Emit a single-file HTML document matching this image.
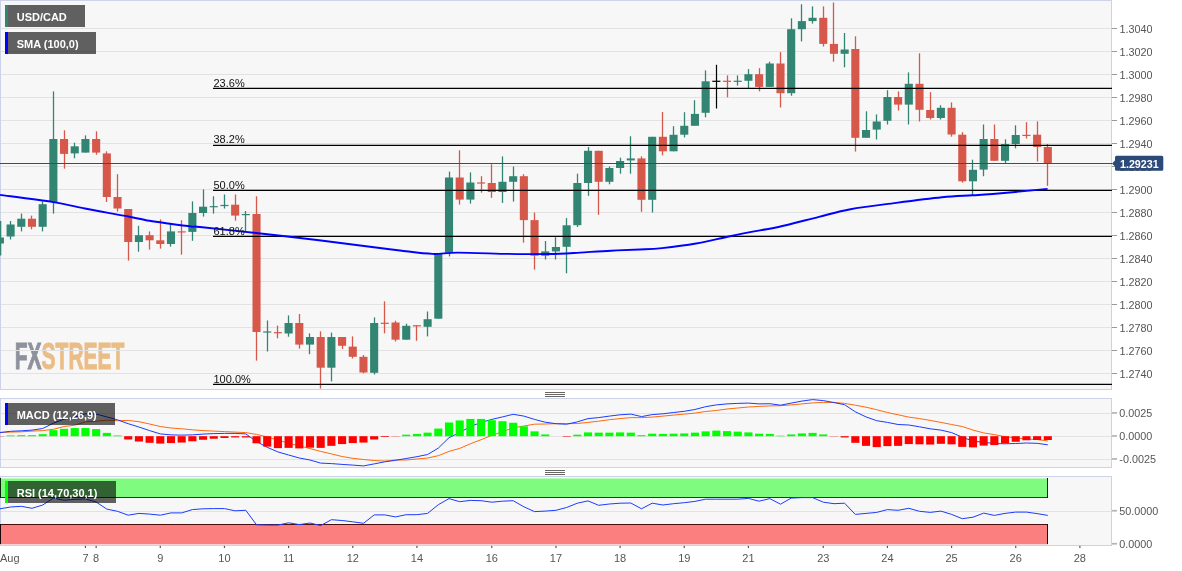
<!DOCTYPE html>
<html lang="en"><head><meta charset="utf-8"><title>USD/CAD chart</title>
<style>
html,body{margin:0;padding:0;background:#fff;}
body{width:1182px;height:571px;position:relative;overflow:hidden;font-family:"Liberation Sans",sans-serif;}
</style></head><body>
<svg width="1182" height="571" viewBox="0 0 1182 571" style="position:absolute;left:0;top:0;font-family:'Liberation Sans',sans-serif">
<defs>
<clipPath id="cm"><rect x="0" y="0" width="1112" height="390"/></clipPath>
<clipPath id="cd"><rect x="0" y="398" width="1112" height="70"/></clipPath>
<clipPath id="cr"><rect x="0" y="476" width="1112" height="70"/></clipPath>
</defs>
<rect x="0.5" y="0.5" width="1111" height="389" fill="#f7f7f7" stroke="#ccd3e6" stroke-width="1"/>
<rect x="0.5" y="398.5" width="1111" height="69" fill="#f7f7f7" stroke="#ccd3e6" stroke-width="1"/>
<rect x="0.5" y="476.5" width="1111" height="69" fill="#f7f7f7" stroke="#ccd3e6" stroke-width="1"/>
<g clip-path="url(#cm)">
<g font-weight="bold" font-size="36.2px" stroke-linejoin="miter">
<text transform="translate(14.8,369.1) scale(0.58,1)" x="0" y="0"><tspan fill="#8e929d" stroke="#8e929d" stroke-width="1.0">FX</tspan><tspan fill="#ebbd86" stroke="#ebbd86" stroke-width="1.0">STREET</tspan></text>
</g>
<g shape-rendering="crispEdges" fill="#e2e2e2">
<rect x="1" y="28" width="1110" height="1"/>
<rect x="1" y="51" width="1110" height="1"/>
<rect x="1" y="74" width="1110" height="1"/>
<rect x="1" y="97" width="1110" height="1"/>
<rect x="1" y="120" width="1110" height="1"/>
<rect x="1" y="143" width="1110" height="1"/>
<rect x="1" y="166" width="1110" height="1"/>
<rect x="1" y="189" width="1110" height="1"/>
<rect x="1" y="212" width="1110" height="1"/>
<rect x="1" y="235" width="1110" height="1"/>
<rect x="1" y="258" width="1110" height="1"/>
<rect x="1" y="281" width="1110" height="1"/>
<rect x="1" y="304" width="1110" height="1"/>
<rect x="1" y="327" width="1110" height="1"/>
<rect x="1" y="350" width="1110" height="1"/>
<rect x="1" y="373" width="1110" height="1"/>
</g>
<g>
<rect x="0.00" y="221.0" width="1.3" height="34.5" fill="#338573"/>
<rect x="-4.15" y="237.5" width="8.1" height="6.0" fill="#338573"/>
<rect x="9.85" y="221.0" width="1.3" height="18.5" fill="#338573"/>
<rect x="6.54" y="224.5" width="8.1" height="12.0" fill="#338573"/>
<rect x="20.85" y="213.6" width="1.3" height="17.8" fill="#338573"/>
<rect x="17.24" y="218.7" width="8.1" height="8.1" fill="#338573"/>
<rect x="30.85" y="215.6" width="1.3" height="13.7" fill="#d6584a"/>
<rect x="27.93" y="218.7" width="8.1" height="8.1" fill="#d6584a"/>
<rect x="41.85" y="201.4" width="1.3" height="30.0" fill="#338573"/>
<rect x="38.62" y="204.2" width="8.1" height="22.6" fill="#338573"/>
<rect x="52.85" y="91.4" width="1.3" height="122.2" fill="#338573"/>
<rect x="49.31" y="139.0" width="8.1" height="63.0" fill="#338573"/>
<rect x="63.85" y="130.3" width="1.3" height="38.3" fill="#d6584a"/>
<rect x="60.01" y="139.0" width="8.1" height="14.9" fill="#d6584a"/>
<rect x="73.85" y="142.7" width="1.3" height="15.5" fill="#338573"/>
<rect x="70.70" y="146.3" width="8.1" height="7.1" fill="#338573"/>
<rect x="84.85" y="135.4" width="1.3" height="17.2" fill="#338573"/>
<rect x="81.39" y="139.0" width="8.1" height="13.6" fill="#338573"/>
<rect x="95.85" y="131.3" width="1.3" height="23.4" fill="#d6584a"/>
<rect x="92.09" y="139.0" width="8.1" height="13.6" fill="#d6584a"/>
<rect x="105.85" y="151.3" width="1.3" height="50.7" fill="#d6584a"/>
<rect x="102.78" y="153.4" width="8.1" height="43.6" fill="#d6584a"/>
<rect x="116.85" y="174.2" width="1.3" height="37.3" fill="#d6584a"/>
<rect x="113.47" y="197.0" width="8.1" height="11.5" fill="#d6584a"/>
<rect x="127.85" y="209.0" width="1.3" height="51.6" fill="#d6584a"/>
<rect x="124.17" y="209.0" width="8.1" height="33.0" fill="#d6584a"/>
<rect x="137.85" y="225.8" width="1.3" height="25.9" fill="#338573"/>
<rect x="134.86" y="235.2" width="8.1" height="6.8" fill="#338573"/>
<rect x="148.85" y="231.4" width="1.3" height="18.2" fill="#d6584a"/>
<rect x="145.55" y="235.2" width="8.1" height="5.1" fill="#d6584a"/>
<rect x="159.85" y="219.4" width="1.3" height="29.2" fill="#d6584a"/>
<rect x="156.24" y="240.3" width="8.1" height="3.7" fill="#d6584a"/>
<rect x="169.85" y="224.2" width="1.3" height="22.4" fill="#338573"/>
<rect x="166.94" y="231.4" width="8.1" height="12.6" fill="#338573"/>
<rect x="180.85" y="220.2" width="1.3" height="34.5" fill="#d6584a"/>
<rect x="177.63" y="231.3" width="8.1" height="1.2" fill="#d6584a"/>
<rect x="191.85" y="201.4" width="1.3" height="39.4" fill="#338573"/>
<rect x="188.32" y="213.0" width="8.1" height="18.9" fill="#338573"/>
<rect x="202.85" y="189.4" width="1.3" height="27.2" fill="#338573"/>
<rect x="199.02" y="206.7" width="8.1" height="6.3" fill="#338573"/>
<rect x="212.85" y="196.3" width="1.3" height="17.3" fill="#338573"/>
<rect x="209.71" y="206.1" width="8.1" height="1.2" fill="#338573"/>
<rect x="223.85" y="194.5" width="1.3" height="14.0" fill="#338573"/>
<rect x="220.40" y="204.9" width="8.1" height="1.2" fill="#338573"/>
<rect x="234.85" y="194.5" width="1.3" height="26.2" fill="#d6584a"/>
<rect x="231.10" y="204.7" width="8.1" height="10.9" fill="#d6584a"/>
<rect x="244.85" y="211.0" width="1.3" height="20.4" fill="#338573"/>
<rect x="241.79" y="214.0" width="8.1" height="1.2" fill="#338573"/>
<rect x="255.85" y="196.3" width="1.3" height="164.3" fill="#d6584a"/>
<rect x="252.48" y="214.0" width="8.1" height="118.0" fill="#d6584a"/>
<rect x="266.85" y="320.5" width="1.3" height="31.0" fill="#338573"/>
<rect x="263.17" y="331.4" width="8.1" height="1.2" fill="#338573"/>
<rect x="276.85" y="325.6" width="1.3" height="12.7" fill="#d6584a"/>
<rect x="273.87" y="332.1" width="8.1" height="1.2" fill="#d6584a"/>
<rect x="287.85" y="315.4" width="1.3" height="21.3" fill="#338573"/>
<rect x="284.56" y="323.0" width="8.1" height="10.5" fill="#338573"/>
<rect x="298.85" y="314.0" width="1.3" height="34.6" fill="#d6584a"/>
<rect x="295.25" y="323.0" width="8.1" height="21.6" fill="#d6584a"/>
<rect x="308.85" y="333.4" width="1.3" height="20.8" fill="#338573"/>
<rect x="305.95" y="337.0" width="8.1" height="7.6" fill="#338573"/>
<rect x="319.85" y="331.4" width="1.3" height="57.1" fill="#d6584a"/>
<rect x="316.64" y="337.0" width="8.1" height="30.7" fill="#d6584a"/>
<rect x="330.85" y="332.6" width="1.3" height="48.8" fill="#338573"/>
<rect x="327.33" y="337.0" width="8.1" height="30.7" fill="#338573"/>
<rect x="341.85" y="337.0" width="1.3" height="12.0" fill="#d6584a"/>
<rect x="338.03" y="337.0" width="8.1" height="8.8" fill="#d6584a"/>
<rect x="351.85" y="336.4" width="1.3" height="22.1" fill="#d6584a"/>
<rect x="348.72" y="346.6" width="8.1" height="10.2" fill="#d6584a"/>
<rect x="362.85" y="355.0" width="1.3" height="18.3" fill="#d6584a"/>
<rect x="359.41" y="356.8" width="8.1" height="15.7" fill="#d6584a"/>
<rect x="373.85" y="317.4" width="1.3" height="57.1" fill="#338573"/>
<rect x="370.10" y="323.0" width="8.1" height="49.8" fill="#338573"/>
<rect x="383.85" y="301.4" width="1.3" height="32.0" fill="#d6584a"/>
<rect x="380.80" y="322.7" width="8.1" height="1.2" fill="#d6584a"/>
<rect x="394.85" y="320.7" width="1.3" height="20.8" fill="#d6584a"/>
<rect x="391.49" y="322.5" width="8.1" height="17.2" fill="#d6584a"/>
<rect x="405.85" y="323.7" width="1.3" height="16.0" fill="#338573"/>
<rect x="402.18" y="325.8" width="8.1" height="13.9" fill="#338573"/>
<rect x="415.85" y="325.3" width="1.3" height="15.5" fill="#d6584a"/>
<rect x="412.88" y="325.2" width="8.1" height="1.2" fill="#d6584a"/>
<rect x="426.85" y="311.5" width="1.3" height="24.9" fill="#338573"/>
<rect x="423.57" y="319.2" width="8.1" height="7.6" fill="#338573"/>
<rect x="437.85" y="253.0" width="1.3" height="65.7" fill="#338573"/>
<rect x="434.26" y="253.9" width="8.1" height="64.8" fill="#338573"/>
<rect x="448.85" y="171.6" width="1.3" height="84.8" fill="#338573"/>
<rect x="444.96" y="177.5" width="8.1" height="75.1" fill="#338573"/>
<rect x="458.85" y="150.3" width="1.3" height="54.3" fill="#d6584a"/>
<rect x="455.65" y="177.5" width="8.1" height="22.1" fill="#d6584a"/>
<rect x="469.85" y="172.4" width="1.3" height="31.2" fill="#338573"/>
<rect x="466.34" y="182.5" width="8.1" height="17.1" fill="#338573"/>
<rect x="480.85" y="176.2" width="1.3" height="16.5" fill="#d6584a"/>
<rect x="477.03" y="182.4" width="8.1" height="1.2" fill="#d6584a"/>
<rect x="490.85" y="164.3" width="1.3" height="33.5" fill="#d6584a"/>
<rect x="487.73" y="183.0" width="8.1" height="9.0" fill="#d6584a"/>
<rect x="501.85" y="156.4" width="1.3" height="46.5" fill="#338573"/>
<rect x="498.42" y="181.8" width="8.1" height="10.2" fill="#338573"/>
<rect x="512.85" y="166.5" width="1.3" height="35.1" fill="#338573"/>
<rect x="509.11" y="176.2" width="8.1" height="5.6" fill="#338573"/>
<rect x="522.85" y="174.2" width="1.3" height="68.5" fill="#d6584a"/>
<rect x="519.81" y="176.2" width="8.1" height="43.9" fill="#d6584a"/>
<rect x="533.85" y="212.5" width="1.3" height="57.1" fill="#d6584a"/>
<rect x="530.50" y="220.1" width="8.1" height="35.6" fill="#d6584a"/>
<rect x="544.85" y="241.0" width="1.3" height="18.5" fill="#338573"/>
<rect x="541.19" y="251.4" width="8.1" height="4.3" fill="#338573"/>
<rect x="554.85" y="237.2" width="1.3" height="22.3" fill="#338573"/>
<rect x="551.89" y="247.0" width="8.1" height="4.4" fill="#338573"/>
<rect x="565.85" y="218.1" width="1.3" height="55.2" fill="#338573"/>
<rect x="562.58" y="225.3" width="8.1" height="21.5" fill="#338573"/>
<rect x="576.85" y="173.7" width="1.3" height="53.3" fill="#338573"/>
<rect x="573.27" y="183.0" width="8.1" height="42.2" fill="#338573"/>
<rect x="587.85" y="147.0" width="1.3" height="48.8" fill="#338573"/>
<rect x="583.97" y="150.8" width="8.1" height="32.2" fill="#338573"/>
<rect x="597.85" y="150.8" width="1.3" height="64.0" fill="#d6584a"/>
<rect x="594.66" y="150.8" width="8.1" height="31.0" fill="#d6584a"/>
<rect x="608.85" y="166.5" width="1.3" height="17.8" fill="#338573"/>
<rect x="605.35" y="168.0" width="8.1" height="13.8" fill="#338573"/>
<rect x="619.85" y="157.7" width="1.3" height="16.0" fill="#338573"/>
<rect x="616.04" y="161.0" width="8.1" height="7.0" fill="#338573"/>
<rect x="629.85" y="136.3" width="1.3" height="37.4" fill="#338573"/>
<rect x="626.74" y="158.4" width="8.1" height="2.0" fill="#338573"/>
<rect x="640.85" y="156.4" width="1.3" height="55.4" fill="#d6584a"/>
<rect x="637.43" y="158.4" width="8.1" height="41.4" fill="#d6584a"/>
<rect x="651.85" y="136.8" width="1.3" height="75.7" fill="#338573"/>
<rect x="648.12" y="136.8" width="8.1" height="63.0" fill="#338573"/>
<rect x="661.85" y="112.0" width="1.3" height="43.4" fill="#d6584a"/>
<rect x="658.82" y="136.8" width="8.1" height="14.5" fill="#d6584a"/>
<rect x="672.85" y="126.2" width="1.3" height="25.1" fill="#338573"/>
<rect x="669.51" y="134.8" width="8.1" height="16.5" fill="#338573"/>
<rect x="683.85" y="112.2" width="1.3" height="25.2" fill="#338573"/>
<rect x="680.20" y="125.8" width="8.1" height="8.9" fill="#338573"/>
<rect x="693.85" y="100.3" width="1.3" height="25.5" fill="#338573"/>
<rect x="690.89" y="113.9" width="8.1" height="11.9" fill="#338573"/>
<rect x="704.85" y="70.4" width="1.3" height="46.9" fill="#338573"/>
<rect x="701.59" y="81.3" width="8.1" height="31.5" fill="#338573"/>
<rect x="715.90" y="64.8" width="1.2" height="43.7" fill="#000000"/>
<rect x="712.28" y="80.7" width="8.1" height="1.2" fill="#000000"/>
<rect x="726.85" y="75.4" width="1.3" height="21.9" fill="#d6584a"/>
<rect x="722.97" y="80.7" width="8.1" height="1.2" fill="#d6584a"/>
<rect x="736.85" y="75.4" width="1.3" height="10.2" fill="#338573"/>
<rect x="733.67" y="80.7" width="8.1" height="1.2" fill="#338573"/>
<rect x="747.85" y="69.1" width="1.3" height="19.0" fill="#338573"/>
<rect x="744.36" y="74.2" width="8.1" height="6.6" fill="#338573"/>
<rect x="758.85" y="68.1" width="1.3" height="23.3" fill="#d6584a"/>
<rect x="755.05" y="74.2" width="8.1" height="12.7" fill="#d6584a"/>
<rect x="768.85" y="61.7" width="1.3" height="25.2" fill="#338573"/>
<rect x="765.75" y="63.5" width="8.1" height="23.4" fill="#338573"/>
<rect x="779.85" y="52.1" width="1.3" height="55.4" fill="#d6584a"/>
<rect x="776.44" y="63.5" width="8.1" height="29.7" fill="#d6584a"/>
<rect x="790.85" y="18.3" width="1.3" height="77.5" fill="#338573"/>
<rect x="787.13" y="29.2" width="8.1" height="64.0" fill="#338573"/>
<rect x="800.85" y="4.3" width="1.3" height="37.1" fill="#338573"/>
<rect x="797.83" y="21.1" width="8.1" height="8.1" fill="#338573"/>
<rect x="811.85" y="6.4" width="1.3" height="17.2" fill="#338573"/>
<rect x="808.52" y="17.8" width="8.1" height="3.3" fill="#338573"/>
<rect x="822.85" y="6.4" width="1.3" height="40.1" fill="#d6584a"/>
<rect x="819.21" y="17.8" width="8.1" height="26.1" fill="#d6584a"/>
<rect x="832.85" y="2.5" width="1.3" height="59.2" fill="#d6584a"/>
<rect x="829.90" y="43.9" width="8.1" height="9.9" fill="#d6584a"/>
<rect x="843.85" y="33.0" width="1.3" height="34.3" fill="#338573"/>
<rect x="840.60" y="49.5" width="8.1" height="4.3" fill="#338573"/>
<rect x="854.85" y="36.3" width="1.3" height="115.3" fill="#d6584a"/>
<rect x="851.29" y="49.0" width="8.1" height="88.8" fill="#d6584a"/>
<rect x="865.85" y="111.3" width="1.3" height="26.5" fill="#338573"/>
<rect x="861.98" y="130.0" width="8.1" height="7.8" fill="#338573"/>
<rect x="875.85" y="114.4" width="1.3" height="25.1" fill="#338573"/>
<rect x="872.68" y="121.5" width="8.1" height="8.1" fill="#338573"/>
<rect x="886.85" y="90.2" width="1.3" height="34.3" fill="#338573"/>
<rect x="883.37" y="97.0" width="8.1" height="23.8" fill="#338573"/>
<rect x="897.85" y="91.4" width="1.3" height="19.1" fill="#d6584a"/>
<rect x="894.06" y="97.0" width="8.1" height="7.6" fill="#d6584a"/>
<rect x="907.85" y="72.4" width="1.3" height="52.1" fill="#338573"/>
<rect x="904.75" y="83.8" width="8.1" height="20.8" fill="#338573"/>
<rect x="918.85" y="53.3" width="1.3" height="68.2" fill="#d6584a"/>
<rect x="915.45" y="83.8" width="8.1" height="26.0" fill="#d6584a"/>
<rect x="929.85" y="92.2" width="1.3" height="27.3" fill="#d6584a"/>
<rect x="926.14" y="110.0" width="8.1" height="8.0" fill="#d6584a"/>
<rect x="939.85" y="105.2" width="1.3" height="14.3" fill="#338573"/>
<rect x="936.83" y="107.8" width="8.1" height="10.2" fill="#338573"/>
<rect x="950.85" y="102.4" width="1.3" height="34.3" fill="#d6584a"/>
<rect x="947.53" y="107.8" width="8.1" height="26.7" fill="#d6584a"/>
<rect x="961.85" y="132.2" width="1.3" height="50.4" fill="#d6584a"/>
<rect x="958.22" y="134.7" width="8.1" height="46.6" fill="#d6584a"/>
<rect x="971.85" y="159.7" width="1.3" height="35.6" fill="#338573"/>
<rect x="968.91" y="169.8" width="8.1" height="11.5" fill="#338573"/>
<rect x="982.85" y="124.5" width="1.3" height="51.7" fill="#338573"/>
<rect x="979.61" y="139.0" width="8.1" height="30.6" fill="#338573"/>
<rect x="993.85" y="124.5" width="1.3" height="36.3" fill="#d6584a"/>
<rect x="990.30" y="139.0" width="8.1" height="21.8" fill="#d6584a"/>
<rect x="1004.85" y="139.3" width="1.3" height="23.7" fill="#338573"/>
<rect x="1000.99" y="144.1" width="8.1" height="16.7" fill="#338573"/>
<rect x="1014.85" y="125.3" width="1.3" height="23.0" fill="#338573"/>
<rect x="1011.68" y="135.0" width="8.1" height="9.0" fill="#338573"/>
<rect x="1025.85" y="122.2" width="1.3" height="16.3" fill="#d6584a"/>
<rect x="1022.38" y="134.8" width="8.1" height="1.2" fill="#d6584a"/>
<rect x="1036.85" y="121.4" width="1.3" height="40.1" fill="#d6584a"/>
<rect x="1033.07" y="134.7" width="8.1" height="12.3" fill="#d6584a"/>
<rect x="1046.85" y="144.0" width="1.3" height="41.9" fill="#d6584a"/>
<rect x="1043.76" y="147.0" width="8.1" height="16.0" fill="#d6584a"/>
</g>
<rect x="0" y="163" width="1112" height="1" fill="#2f4d7e" shape-rendering="crispEdges"/>
<line x1="213" y1="88.45" x2="1112" y2="88.45" stroke="#000" stroke-width="1.2"/>
<line x1="213" y1="145.45" x2="1112" y2="145.45" stroke="#000" stroke-width="1.2"/>
<line x1="213" y1="190.45" x2="1112" y2="190.45" stroke="#000" stroke-width="1.2"/>
<line x1="213" y1="236.4" x2="1112" y2="236.4" stroke="#000" stroke-width="1.2"/>
<line x1="213" y1="384.3" x2="1112" y2="384.3" stroke="#000" stroke-width="1.2"/>
<path d="M0.0,194.9C8.9,196.1 39.1,199.8 53.3,202.1C67.5,204.4 76.0,206.8 85.0,208.5C94.0,210.2 99.8,211.3 107.0,212.6C114.2,213.9 121.2,215.1 128.3,216.5C135.4,217.9 142.6,219.6 149.5,220.8C156.4,222.0 162.9,222.8 170.0,223.8C177.1,224.8 187.0,226.1 192.0,226.6C197.0,227.1 189.3,225.9 200.0,227.0C210.7,228.1 236.2,230.8 256.0,233.0C275.8,235.2 300.0,238.0 319.0,240.3C338.0,242.6 356.5,245.1 370.0,246.8C383.5,248.5 389.6,249.3 400.0,250.5C410.4,251.7 422.8,253.6 432.4,253.9C442.0,254.2 445.1,252.6 457.8,252.6C470.5,252.6 495.9,253.7 508.6,253.9C521.3,254.2 525.4,254.1 534.0,254.1C542.6,254.1 552.3,253.9 560.0,253.7C567.7,253.4 571.5,253.1 580.0,252.6C588.5,252.1 601.0,251.2 611.0,250.7C621.0,250.2 631.5,249.9 640.0,249.5C648.5,249.1 652.7,249.1 662.0,248.1C671.3,247.1 684.7,245.5 696.0,243.5C707.3,241.5 719.3,238.4 730.0,236.2C740.7,234.0 751.9,231.9 760.0,230.4C768.1,228.9 768.6,229.3 778.4,227.0C788.2,224.7 807.0,219.8 819.0,216.8C831.0,213.8 837.6,211.5 850.5,209.2C863.4,206.9 881.0,204.9 896.2,202.9C911.5,200.9 929.3,198.6 942.0,197.3C954.7,196.0 963.9,195.9 972.4,195.3C980.9,194.8 980.2,195.1 992.7,194.0C1005.2,192.9 1038.4,189.8 1047.6,188.9" fill="none" stroke="#0000ff" stroke-width="1.9" stroke-linejoin="round"/>
<text x="213.5" y="87.05" font-size="11px" fill="#111">23.6%</text>
<text x="213.5" y="143.05" font-size="11px" fill="#111">38.2%</text>
<text x="213.5" y="189.05" font-size="11px" fill="#111">50.0%</text>
<text x="213.5" y="235.10" font-size="11px" fill="#111">61.8%</text>
<text x="213.5" y="382.70" font-size="11px" fill="#111">100.0%</text>
<rect x="5" y="5" width="80" height="22" fill="#000" fill-opacity="0.61" shape-rendering="crispEdges"/>
<rect x="5" y="5" width="3" height="22" fill="#338573" shape-rendering="crispEdges"/>
<text x="16.7" y="21.0" font-size="11px" font-weight="bold" fill="#fff">USD/CAD</text>
<rect x="5" y="32" width="91" height="22" fill="#000" fill-opacity="0.61" shape-rendering="crispEdges"/>
<rect x="5" y="32" width="3" height="22" fill="#0000ff" shape-rendering="crispEdges"/>
<text x="16.7" y="48.0" font-size="11px" font-weight="bold" fill="#fff">SMA (100,0)</text>
</g>
<g clip-path="url(#cd)">
<g shape-rendering="crispEdges" fill="#e2e2e2">
<rect x="1" y="413" width="1110" height="1"/>
<rect x="1" y="436" width="1110" height="1"/>
<rect x="1" y="459" width="1110" height="1"/>
</g>
<polyline points="-0.1,432.4 10.6,432.1 21.3,431.8 32.0,431.1 42.7,430.6 53.4,429.3 64.1,426.5 74.8,425.2 85.4,421.9 96.1,421.2 106.8,420.2 117.5,420.7 128.2,420.4 138.9,421.7 149.6,424.0 160.3,426.5 171.0,428.0 181.7,428.8 192.4,429.8 203.1,430.6 213.8,431.1 224.5,431.6 235.1,432.1 245.8,432.6 256.5,434.4 267.2,436.9 277.9,440.0 288.6,443.3 299.3,445.8 310.0,448.6 320.7,451.4 331.4,453.9 342.1,456.5 352.8,458.3 363.5,459.5 374.2,460.5 384.8,461.1 395.5,460.0 406.2,460.0 416.9,459.0 427.6,458.0 438.3,455.7 449.0,451.4 459.7,448.4 470.4,443.8 481.1,439.7 491.8,435.4 502.5,431.8 513.2,427.8 523.9,426.0 534.5,424.2 545.2,424.0 555.9,423.7 566.6,423.7 577.3,423.5 588.0,422.4 598.7,421.2 609.4,419.7 620.1,418.6 630.8,417.6 641.5,417.6 652.2,417.1 662.9,416.1 673.6,415.1 684.3,414.1 694.9,413.1 705.6,411.5 716.3,410.5 727.0,409.0 737.7,408.0 748.4,407.0 759.1,406.4 769.8,405.9 780.5,405.7 791.2,404.9 801.9,403.9 812.6,402.9 823.3,402.4 834.0,402.4 844.6,403.4 855.3,405.2 866.0,407.2 876.7,409.7 887.4,412.5 898.1,414.8 908.8,417.1 919.5,418.6 930.2,420.4 940.9,422.4 951.6,424.5 962.3,426.5 973.0,430.1 983.7,432.9 994.3,434.6 1005.0,436.7 1015.7,437.9 1026.4,439.0 1037.1,439.5 1047.8,441.0" fill="none" stroke="#ff6a0d" stroke-width="1.0" stroke-linejoin="round"/>
<polyline points="-0.1,432.6 10.6,431.3 21.3,430.8 32.0,430.1 42.7,428.5 53.4,423.2 64.1,419.1 74.8,417.1 85.4,413.8 96.1,414.1 106.8,416.9 117.5,419.9 128.2,423.7 138.9,427.0 149.6,430.6 160.3,433.9 171.0,434.9 181.7,435.1 192.4,434.9 203.1,434.1 213.8,433.6 224.5,433.4 235.1,433.4 245.8,433.9 256.5,441.5 267.2,447.3 277.9,451.9 288.6,455.0 299.3,458.0 310.0,460.0 320.7,463.1 331.4,463.6 342.1,464.4 352.8,465.1 363.5,465.9 374.2,463.9 384.8,461.8 395.5,460.3 406.2,458.5 416.9,456.7 427.6,454.5 438.3,448.1 449.0,437.7 459.7,432.6 470.4,426.5 481.1,422.4 491.8,419.4 502.5,416.9 513.2,414.3 523.9,416.1 534.5,419.4 545.2,422.2 555.9,423.7 566.6,424.2 577.3,421.9 588.0,418.6 598.7,417.6 609.4,416.1 620.1,414.8 630.8,414.1 641.5,416.6 652.2,414.6 662.9,413.8 673.6,412.5 684.3,411.3 694.9,409.5 705.6,406.7 716.3,404.9 727.0,403.9 737.7,403.4 748.4,403.1 759.1,403.9 769.8,403.7 780.5,405.2 791.2,403.1 801.9,401.1 812.6,399.6 823.3,400.6 834.0,402.6 844.6,404.7 855.3,411.8 866.0,416.9 876.7,420.7 887.4,422.4 898.1,424.5 908.8,425.0 919.5,426.8 930.2,428.8 940.9,430.1 951.6,432.6 962.3,437.2 973.0,441.2 983.7,442.3 994.3,443.5 1005.0,443.8 1015.7,443.5 1026.4,443.0 1037.1,443.3 1047.8,444.8" fill="none" stroke="#1a3cff" stroke-width="1.0" stroke-linejoin="round"/>
<g>
<rect x="-4.15" y="436.20" width="8.1" height="0.25" fill="#ff0000"/>
<rect x="6.54" y="435.44" width="8.1" height="0.76" fill="#00ff00"/>
<rect x="17.24" y="435.18" width="8.1" height="1.02" fill="#00ff00"/>
<rect x="27.93" y="435.18" width="8.1" height="1.02" fill="#00ff00"/>
<rect x="38.62" y="434.17" width="8.1" height="2.03" fill="#00ff00"/>
<rect x="49.31" y="430.10" width="8.1" height="6.10" fill="#00ff00"/>
<rect x="60.01" y="428.83" width="8.1" height="7.37" fill="#00ff00"/>
<rect x="70.70" y="428.07" width="8.1" height="8.13" fill="#00ff00"/>
<rect x="81.39" y="428.07" width="8.1" height="8.13" fill="#00ff00"/>
<rect x="92.09" y="429.09" width="8.1" height="7.11" fill="#00ff00"/>
<rect x="102.78" y="432.90" width="8.1" height="3.30" fill="#00ff00"/>
<rect x="113.47" y="435.44" width="8.1" height="0.76" fill="#00ff00"/>
<rect x="124.17" y="436.20" width="8.1" height="3.30" fill="#ff0000"/>
<rect x="134.86" y="436.20" width="8.1" height="5.33" fill="#ff0000"/>
<rect x="145.55" y="436.20" width="8.1" height="6.60" fill="#ff0000"/>
<rect x="156.24" y="436.20" width="8.1" height="7.37" fill="#ff0000"/>
<rect x="166.94" y="436.20" width="8.1" height="6.86" fill="#ff0000"/>
<rect x="177.63" y="436.20" width="8.1" height="6.35" fill="#ff0000"/>
<rect x="188.32" y="436.20" width="8.1" height="5.08" fill="#ff0000"/>
<rect x="199.02" y="436.20" width="8.1" height="3.56" fill="#ff0000"/>
<rect x="209.71" y="436.20" width="8.1" height="2.54" fill="#ff0000"/>
<rect x="220.40" y="436.20" width="8.1" height="1.78" fill="#ff0000"/>
<rect x="231.10" y="436.20" width="8.1" height="1.27" fill="#ff0000"/>
<rect x="241.79" y="436.20" width="8.1" height="1.27" fill="#ff0000"/>
<rect x="252.48" y="436.20" width="8.1" height="7.11" fill="#ff0000"/>
<rect x="263.17" y="436.20" width="8.1" height="10.41" fill="#ff0000"/>
<rect x="273.87" y="436.20" width="8.1" height="11.94" fill="#ff0000"/>
<rect x="284.56" y="436.20" width="8.1" height="11.68" fill="#ff0000"/>
<rect x="295.25" y="436.20" width="8.1" height="12.19" fill="#ff0000"/>
<rect x="305.95" y="436.20" width="8.1" height="11.43" fill="#ff0000"/>
<rect x="316.64" y="436.20" width="8.1" height="11.68" fill="#ff0000"/>
<rect x="327.33" y="436.20" width="8.1" height="9.65" fill="#ff0000"/>
<rect x="338.03" y="436.20" width="8.1" height="7.87" fill="#ff0000"/>
<rect x="348.72" y="436.20" width="8.1" height="6.86" fill="#ff0000"/>
<rect x="359.41" y="436.20" width="8.1" height="6.35" fill="#ff0000"/>
<rect x="370.10" y="436.20" width="8.1" height="3.30" fill="#ff0000"/>
<rect x="380.80" y="436.20" width="8.1" height="0.76" fill="#ff0000"/>
<rect x="391.49" y="436.20" width="8.1" height="0.25" fill="#ff0000"/>
<rect x="402.18" y="434.68" width="8.1" height="1.52" fill="#00ff00"/>
<rect x="412.88" y="433.91" width="8.1" height="2.29" fill="#00ff00"/>
<rect x="423.57" y="432.64" width="8.1" height="3.56" fill="#00ff00"/>
<rect x="434.26" y="428.58" width="8.1" height="7.62" fill="#00ff00"/>
<rect x="444.96" y="422.48" width="8.1" height="13.72" fill="#00ff00"/>
<rect x="455.65" y="420.45" width="8.1" height="15.75" fill="#00ff00"/>
<rect x="466.34" y="418.93" width="8.1" height="17.27" fill="#00ff00"/>
<rect x="477.03" y="418.93" width="8.1" height="17.27" fill="#00ff00"/>
<rect x="487.73" y="420.20" width="8.1" height="16.00" fill="#00ff00"/>
<rect x="498.42" y="421.21" width="8.1" height="14.99" fill="#00ff00"/>
<rect x="509.11" y="422.74" width="8.1" height="13.46" fill="#00ff00"/>
<rect x="519.81" y="426.29" width="8.1" height="9.91" fill="#00ff00"/>
<rect x="530.50" y="431.37" width="8.1" height="4.83" fill="#00ff00"/>
<rect x="541.19" y="434.42" width="8.1" height="1.78" fill="#00ff00"/>
<rect x="562.58" y="436.20" width="8.1" height="0.51" fill="#ff0000"/>
<rect x="573.27" y="434.68" width="8.1" height="1.52" fill="#00ff00"/>
<rect x="583.97" y="432.39" width="8.1" height="3.81" fill="#00ff00"/>
<rect x="594.66" y="432.64" width="8.1" height="3.56" fill="#00ff00"/>
<rect x="605.35" y="432.64" width="8.1" height="3.56" fill="#00ff00"/>
<rect x="616.04" y="432.39" width="8.1" height="3.81" fill="#00ff00"/>
<rect x="626.74" y="432.64" width="8.1" height="3.56" fill="#00ff00"/>
<rect x="637.43" y="435.18" width="8.1" height="1.02" fill="#00ff00"/>
<rect x="648.12" y="433.66" width="8.1" height="2.54" fill="#00ff00"/>
<rect x="658.82" y="433.91" width="8.1" height="2.29" fill="#00ff00"/>
<rect x="669.51" y="433.66" width="8.1" height="2.54" fill="#00ff00"/>
<rect x="680.20" y="433.41" width="8.1" height="2.79" fill="#00ff00"/>
<rect x="690.89" y="432.64" width="8.1" height="3.56" fill="#00ff00"/>
<rect x="701.59" y="431.37" width="8.1" height="4.83" fill="#00ff00"/>
<rect x="712.28" y="430.61" width="8.1" height="5.59" fill="#00ff00"/>
<rect x="722.97" y="431.12" width="8.1" height="5.08" fill="#00ff00"/>
<rect x="733.67" y="431.63" width="8.1" height="4.57" fill="#00ff00"/>
<rect x="744.36" y="432.39" width="8.1" height="3.81" fill="#00ff00"/>
<rect x="755.05" y="433.66" width="8.1" height="2.54" fill="#00ff00"/>
<rect x="765.75" y="433.91" width="8.1" height="2.29" fill="#00ff00"/>
<rect x="776.44" y="435.69" width="8.1" height="0.51" fill="#00ff00"/>
<rect x="787.13" y="434.42" width="8.1" height="1.78" fill="#00ff00"/>
<rect x="797.83" y="433.41" width="8.1" height="2.79" fill="#00ff00"/>
<rect x="808.52" y="432.90" width="8.1" height="3.30" fill="#00ff00"/>
<rect x="819.21" y="434.42" width="8.1" height="1.78" fill="#00ff00"/>
<rect x="829.90" y="436.20" width="8.1" height="0.25" fill="#ff0000"/>
<rect x="840.60" y="436.20" width="8.1" height="1.27" fill="#ff0000"/>
<rect x="851.29" y="436.20" width="8.1" height="6.60" fill="#ff0000"/>
<rect x="861.98" y="436.20" width="8.1" height="9.65" fill="#ff0000"/>
<rect x="872.68" y="436.20" width="8.1" height="10.92" fill="#ff0000"/>
<rect x="883.37" y="436.20" width="8.1" height="9.91" fill="#ff0000"/>
<rect x="894.06" y="436.20" width="8.1" height="9.65" fill="#ff0000"/>
<rect x="904.75" y="436.20" width="8.1" height="7.87" fill="#ff0000"/>
<rect x="915.45" y="436.20" width="8.1" height="8.13" fill="#ff0000"/>
<rect x="926.14" y="436.20" width="8.1" height="8.38" fill="#ff0000"/>
<rect x="936.83" y="436.20" width="8.1" height="7.62" fill="#ff0000"/>
<rect x="947.53" y="436.20" width="8.1" height="8.13" fill="#ff0000"/>
<rect x="958.22" y="436.20" width="8.1" height="10.67" fill="#ff0000"/>
<rect x="968.91" y="436.20" width="8.1" height="11.18" fill="#ff0000"/>
<rect x="979.61" y="436.20" width="8.1" height="9.40" fill="#ff0000"/>
<rect x="990.30" y="436.20" width="8.1" height="8.89" fill="#ff0000"/>
<rect x="1000.99" y="436.20" width="8.1" height="7.11" fill="#ff0000"/>
<rect x="1011.68" y="436.20" width="8.1" height="5.59" fill="#ff0000"/>
<rect x="1022.38" y="436.20" width="8.1" height="4.06" fill="#ff0000"/>
<rect x="1033.07" y="436.20" width="8.1" height="3.81" fill="#ff0000"/>
<rect x="1043.76" y="436.20" width="8.1" height="3.81" fill="#ff0000"/>
</g>
<rect x="5" y="403" width="110" height="22" fill="#000" fill-opacity="0.61" shape-rendering="crispEdges"/>
<rect x="5" y="403" width="3" height="22" fill="#0000ff" shape-rendering="crispEdges"/>
<text x="16.7" y="419.0" font-size="11px" font-weight="bold" fill="#fff">MACD (12,26,9)</text>
</g>
<g clip-path="url(#cr)">
<g shape-rendering="crispEdges" fill="#e2e2e2">
<rect x="1" y="511" width="1110" height="1"/>
</g>
<g shape-rendering="crispEdges">
<rect x="0" y="478.5" width="1048" height="19.5" fill="#7ffb7f" shape-rendering="auto"/>
<rect x="0" y="497" width="1048" height="1" fill="#114a11"/>
<rect x="1047" y="478" width="1" height="20" fill="#0a260a"/>
<rect x="0" y="478" width="1" height="20" fill="#0a260a"/>
<rect x="0" y="524.3" width="1048" height="20" fill="#fb7f7f" shape-rendering="auto"/>
<rect x="0" y="524" width="1048" height="1" fill="#4a0c0c"/>
<rect x="1047" y="524" width="1" height="20" fill="#1a0808"/>
<rect x="0" y="524" width="1" height="20" fill="#1a0808"/>
</g>
<polyline points="-0.1,508.8 10.6,507.0 21.3,506.3 32.0,508.3 42.7,505.0 53.4,498.1 64.1,500.2 74.8,499.4 85.4,498.9 96.1,502.0 106.8,509.1 117.5,511.3 128.2,515.2 138.9,513.4 149.6,514.1 160.3,515.2 171.0,512.9 181.7,512.9 192.4,509.6 203.1,508.8 213.8,508.6 224.5,508.6 235.1,510.8 245.8,510.3 256.5,524.8 267.2,525.1 277.9,525.1 288.6,522.8 299.3,524.6 310.0,523.0 320.7,525.6 331.4,519.7 342.1,520.5 352.8,521.8 363.5,523.3 374.2,514.9 384.8,514.9 395.5,516.9 406.2,514.7 416.9,514.7 427.6,513.4 438.3,504.7 449.0,498.6 459.7,501.7 470.4,500.4 481.1,500.7 491.8,502.2 502.5,501.2 513.2,500.7 523.9,506.8 534.5,511.6 545.2,511.1 555.9,510.3 566.6,507.5 577.3,503.2 588.0,500.9 598.7,505.3 609.4,504.0 620.1,503.2 630.8,503.0 641.5,508.8 652.2,503.2 662.9,505.0 673.6,503.7 684.3,502.7 694.9,501.4 705.6,499.2 716.3,499.2 727.0,499.2 737.7,499.2 748.4,498.4 759.1,501.2 769.8,498.6 780.5,504.2 791.2,498.1 801.9,497.6 812.6,497.6 823.3,502.2 834.0,503.7 844.6,503.2 855.3,514.4 866.0,513.4 876.7,512.4 887.4,509.6 898.1,510.3 908.8,508.3 919.5,511.3 930.2,512.4 940.9,511.1 951.6,514.4 962.3,518.7 973.0,517.2 983.7,513.1 994.3,515.4 1005.0,513.4 1015.7,512.1 1026.4,512.1 1037.1,513.6 1047.8,515.4" fill="none" stroke="#1a3cff" stroke-width="1.0" stroke-linejoin="round"/>
<rect x="5" y="481" width="111" height="22" fill="#000" fill-opacity="0.61" shape-rendering="crispEdges"/>
<rect x="5" y="481" width="3" height="22" fill="#00ff00" shape-rendering="crispEdges"/>
<text x="16.7" y="497.0" font-size="11px" font-weight="bold" fill="#fff">RSI (14,70,30,1)</text>
</g>
<g shape-rendering="crispEdges" fill="#6b6666">
<rect x="545" y="392" width="20" height="1"/>
<rect x="545" y="394" width="20" height="1"/>
<rect x="545" y="396" width="20" height="1"/>
<rect x="545" y="470" width="20" height="1"/>
<rect x="545" y="472" width="20" height="1"/>
<rect x="545" y="474" width="20" height="1"/>
</g>
<g font-size="10.8px" fill="#555555">
<rect x="1112" y="28" width="5" height="1" fill="#9a9a9a" shape-rendering="crispEdges"/>
<text x="1119.5" y="32.5">1.3040</text>
<rect x="1112" y="51" width="5" height="1" fill="#9a9a9a" shape-rendering="crispEdges"/>
<text x="1119.5" y="55.5">1.3020</text>
<rect x="1112" y="74" width="5" height="1" fill="#9a9a9a" shape-rendering="crispEdges"/>
<text x="1119.5" y="78.5">1.3000</text>
<rect x="1112" y="97" width="5" height="1" fill="#9a9a9a" shape-rendering="crispEdges"/>
<text x="1119.5" y="101.5">1.2980</text>
<rect x="1112" y="120" width="5" height="1" fill="#9a9a9a" shape-rendering="crispEdges"/>
<text x="1119.5" y="124.5">1.2960</text>
<rect x="1112" y="143" width="5" height="1" fill="#9a9a9a" shape-rendering="crispEdges"/>
<text x="1119.5" y="147.5">1.2940</text>
<rect x="1112" y="166" width="5" height="1" fill="#9a9a9a" shape-rendering="crispEdges"/>
<text x="1119.5" y="170.5">1.2920</text>
<rect x="1112" y="189" width="5" height="1" fill="#9a9a9a" shape-rendering="crispEdges"/>
<text x="1119.5" y="193.5">1.2900</text>
<rect x="1112" y="212" width="5" height="1" fill="#9a9a9a" shape-rendering="crispEdges"/>
<text x="1119.5" y="216.5">1.2880</text>
<rect x="1112" y="235" width="5" height="1" fill="#9a9a9a" shape-rendering="crispEdges"/>
<text x="1119.5" y="239.5">1.2860</text>
<rect x="1112" y="258" width="5" height="1" fill="#9a9a9a" shape-rendering="crispEdges"/>
<text x="1119.5" y="262.5">1.2840</text>
<rect x="1112" y="281" width="5" height="1" fill="#9a9a9a" shape-rendering="crispEdges"/>
<text x="1119.5" y="285.5">1.2820</text>
<rect x="1112" y="304" width="5" height="1" fill="#9a9a9a" shape-rendering="crispEdges"/>
<text x="1119.5" y="308.5">1.2800</text>
<rect x="1112" y="327" width="5" height="1" fill="#9a9a9a" shape-rendering="crispEdges"/>
<text x="1119.5" y="331.5">1.2780</text>
<rect x="1112" y="350" width="5" height="1" fill="#9a9a9a" shape-rendering="crispEdges"/>
<text x="1119.5" y="354.5">1.2760</text>
<rect x="1112" y="373" width="5" height="1" fill="#9a9a9a" shape-rendering="crispEdges"/>
<text x="1119.5" y="377.5">1.2740</text>
<rect x="1112" y="412.1" width="5" height="1.7" fill="#b4b4b4"/>
<text x="1119.3" y="417.05">0.0025</text>
<rect x="1112" y="435.1" width="5" height="1.7" fill="#b4b4b4"/>
<text x="1119.3" y="440.05">0.0000</text>
<rect x="1112" y="458.1" width="5" height="1.7" fill="#b4b4b4"/>
<text x="1119.3" y="463.05">-0.0025</text>
<rect x="1112" y="509.9" width="5" height="1.7" fill="#b4b4b4"/>
<text x="1119.3" y="514.85">50.0000</text>
<rect x="1112" y="542.9" width="5" height="1.7" fill="#b4b4b4"/>
<text x="1119.3" y="547.85">0.0000</text>
</g>
<path d="M1112,163.5 L1115,160.5 L1115,157.3 Q1115,155.8 1116.5,155.8 L1161.8,155.8 Q1163.3,155.8 1163.3,157.3 L1163.3,169.2 Q1163.3,170.7 1161.8,170.7 L1116.5,170.7 Q1115,170.7 1115,169.2 L1115,166.5 Z" fill="#2b4a78"/>
<text x="1120" y="167.6" font-size="10.7px" font-weight="bold" fill="#fff">1.29231</text>
<g font-size="11px" fill="#555555" text-anchor="middle">
<text x="0" y="562" text-anchor="start">Aug</text>
<rect x="84.84" y="545.8" width="1.2" height="2.2" fill="#5a5a5a"/>
<text x="85.44" y="562.1">7</text>
<rect x="95.54" y="545.8" width="1.2" height="2.2" fill="#5a5a5a"/>
<text x="96.14" y="562.1">8</text>
<rect x="159.69" y="545.8" width="1.2" height="2.2" fill="#5a5a5a"/>
<text x="160.29" y="562.1">9</text>
<rect x="223.85" y="545.8" width="1.2" height="2.2" fill="#5a5a5a"/>
<text x="224.45" y="562.1">10</text>
<rect x="288.01" y="545.8" width="1.2" height="2.2" fill="#5a5a5a"/>
<text x="288.61" y="562.1">11</text>
<rect x="352.17" y="545.8" width="1.2" height="2.2" fill="#5a5a5a"/>
<text x="352.77" y="562.1">12</text>
<rect x="416.33" y="545.8" width="1.2" height="2.2" fill="#5a5a5a"/>
<text x="416.93" y="562.1">14</text>
<rect x="491.18" y="545.8" width="1.2" height="2.2" fill="#5a5a5a"/>
<text x="491.78" y="562.1">16</text>
<rect x="555.34" y="545.8" width="1.2" height="2.2" fill="#5a5a5a"/>
<text x="555.94" y="562.1">17</text>
<rect x="619.49" y="545.8" width="1.2" height="2.2" fill="#5a5a5a"/>
<text x="620.09" y="562.1">18</text>
<rect x="683.65" y="545.8" width="1.2" height="2.2" fill="#5a5a5a"/>
<text x="684.25" y="562.1">19</text>
<rect x="747.81" y="545.8" width="1.2" height="2.2" fill="#5a5a5a"/>
<text x="748.41" y="562.1">21</text>
<rect x="822.66" y="545.8" width="1.2" height="2.2" fill="#5a5a5a"/>
<text x="823.26" y="562.1">23</text>
<rect x="886.82" y="545.8" width="1.2" height="2.2" fill="#5a5a5a"/>
<text x="887.42" y="562.1">24</text>
<rect x="950.98" y="545.8" width="1.2" height="2.2" fill="#5a5a5a"/>
<text x="951.58" y="562.1">25</text>
<rect x="1015.13" y="545.8" width="1.2" height="2.2" fill="#5a5a5a"/>
<text x="1015.73" y="562.1">26</text>
<rect x="1079.29" y="545.8" width="1.2" height="2.2" fill="#5a5a5a"/>
<text x="1079.89" y="562.1">28</text>
</g>
</svg>
</body></html>
